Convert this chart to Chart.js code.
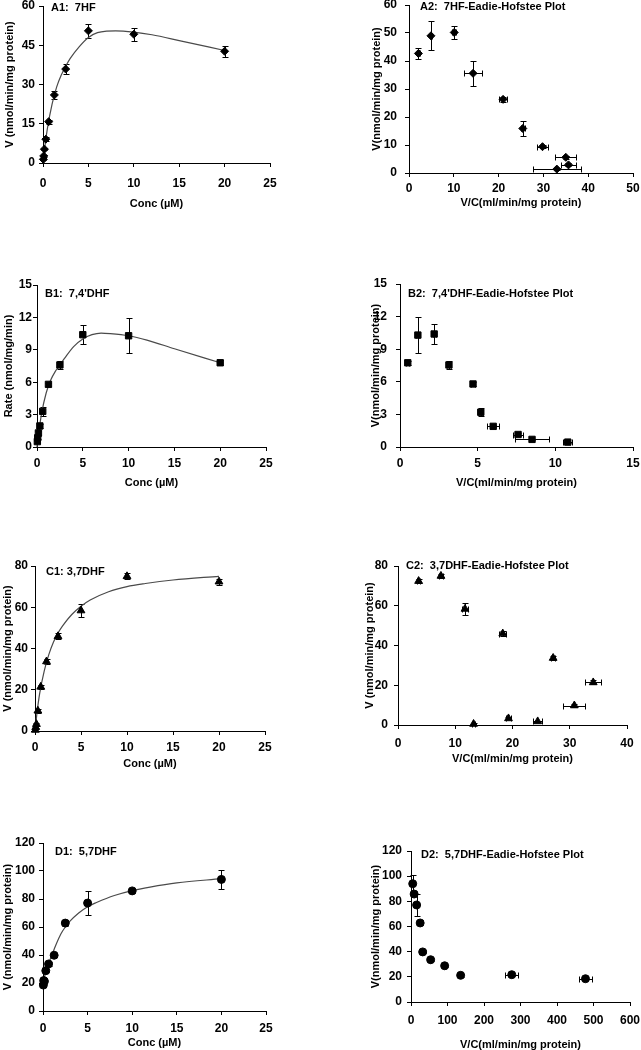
<!DOCTYPE html>
<html lang="en">
<head>
<meta charset="UTF-8">
<title>Flavone kinetics</title>
<script src="https://cdn.jsdelivr.net/npm/chart.js"></script>
<style>
  html, body { margin: 0; padding: 0; background: #fff; overflow: hidden; }
  canvas { position: absolute; }
</style>
</head>
<body>
<canvas id="a1"></canvas>
<canvas id="a2"></canvas>
<canvas id="b1"></canvas>
<canvas id="b2"></canvas>
<canvas id="c1"></canvas>
<canvas id="c2"></canvas>
<canvas id="d1"></canvas>
<canvas id="d2"></canvas>

<script>
// substrate concentrations (uM) used for every rate plot
const concs = [0.039, 0.078, 0.156, 0.3125, 0.625, 1.25, 2.5, 5, 10, 20];

// A: 7HF
const a1Rate = [1.4, 2.7, 5.3, 9.1, 15.8, 26.0, 35.9, 50.5, 49.2, 42.7];
const a1Err = [0.3, 0.4, 0.5, 0.7, 0.8, 1.5, 1.8, 2.6, 2.4, 2.0];
const a1FitConc = [0, 0.25, 0.5, 1, 1.5, 2, 2.5, 3, 4, 5, 6, 7, 8, 10, 12, 15, 20];
const a1FitRate = [0, 7.5, 13.5, 22.5, 29, 33.5, 37, 40, 44.5, 48, 49.8, 50.4, 50.5, 50, 49, 46.8, 43];
const a2VC = [2.1, 4.9, 10.1, 14.3, 21.0, 25.4, 29.8, 35.0, 35.6, 33.0];
const a2V = [42.7, 49.0, 50.2, 35.6, 26.3, 15.9, 9.4, 5.6, 2.9, 1.4];
const a2VCErr = [0.3, 0.3, 0.4, 2.0, 0.9, 0.4, 1.3, 2.3, 1.7, 5.4];
const a2VErr = [1.9, 5.2, 2.3, 4.5, 1.0, 2.8, 0.6, 0.5, 0.5, 0.4];

// B: 7,4'DHF
const b1Rate = [0.5, 0.85, 1.3, 1.95, 3.3, 5.8, 7.6, 10.4, 10.3, 7.8];
const b1Err = [0.1, 0.15, 0.2, 0.2, 0.4, 0.15, 0.35, 0.9, 1.6, 0.25];
const b1FitConc = [0, 0.25, 0.5, 1, 1.5, 2, 2.5, 3, 4, 5, 6, 7, 8, 10, 12, 15, 20];
const b1FitRate = [0, 1.7, 3.1, 5.0, 6.2, 7.0, 7.6, 8.2, 9.3, 10.0, 10.4, 10.55, 10.5, 10.3, 9.9, 9.1, 7.8];
const b2VC = [0.5, 1.15, 2.2, 3.15, 4.7, 5.2, 6.0, 7.6, 8.5, 10.8];
const b2V = [7.75, 10.3, 10.4, 7.55, 5.8, 3.2, 1.9, 1.15, 0.7, 0.45];
const b2VCErr = [0.1, 0.1, 0.1, 0.15, 0.15, 0.15, 0.4, 0.3, 1.1, 0.3];
const b2VErr = [0.2, 1.65, 0.9, 0.35, 0.15, 0.35, 0.1, 0.1, 0.05, 0.05];

// C: 3,7DHF
const c1Rate = [0.5, 1.8, 3.3, 9.8, 21.4, 33.7, 45.9, 58.4, 75.0, 72.4];
const c1Err = [0.3, 0.4, 0.5, 1.0, 1.0, 1.0, 1.5, 3.0, 1.5, 1.5];
const c1FitConc = [0, 0.25, 0.5, 1, 1.5, 2, 2.5, 3, 4, 5, 6, 8, 10, 12, 15, 20];
const c1FitRate = [0, 10, 18, 29, 37, 43, 47.5, 51, 56.5, 60.5, 63.5, 67.5, 70, 71.5, 73.2, 75];
const c2VC = [3.6, 7.5, 11.7, 18.3, 27.1, 34.1, 30.8, 19.3, 24.4, 13.2];
const c2V = [72.4, 75.0, 58.4, 46.0, 33.7, 21.4, 9.8, 3.3, 1.8, 0.5];
const c2VCErr = [0.3, 0.3, 0.6, 0.6, 0.4, 1.4, 1.9, 0.4, 0.8, 0.3];
const c2VErr = [1.0, 1.0, 3.0, 1.2, 1.0, 1.0, 0.8, 0.5, 0.4, 0.3];

// D: 5,7DHF
const d1Rate = [18.5, 21.7, 21.2, 28.8, 33.6, 39.8, 62.8, 77.1, 85.8, 94.0];
const d1Err = [1.0, 1.0, 1.0, 1.0, 1.2, 1.2, 2.0, 8.5, 1.2, 6.7];
const d1FitConc = [0, 0.3, 0.6, 1, 1.5, 2, 2.5, 3, 4, 5, 6, 8, 10, 12, 15, 20];
const d1FitRate = [19, 28, 33.5, 40, 48, 55, 60, 64, 70, 74.5, 77.5, 82.5, 86, 88.5, 91.5, 94.5];
const d2VC = [4.7, 8.6, 15.4, 25.1, 32.0, 53.8, 92.2, 136, 276, 478];
const d2V = [94.0, 85.8, 77.1, 62.8, 39.8, 33.6, 28.8, 21.2, 21.7, 18.5];
const d2VCErr = [0.4, 0.5, 1.7, 1.0, 1.0, 1.5, 3.0, 5.0, 18, 17];
const d2VErr = [6.7, 1.2, 8.5, 2.0, 1.2, 1.2, 1.0, 1.0, 1.0, 1.0];

const FONT = '"Liberation Sans", Arial, Helvetica, sans-serif';
Chart.defaults.font.family = FONT;
Chart.defaults.font.weight = 'bold';
Chart.defaults.color = '#000';

function pts(xs, ys) {
    return xs.map((x, i) => ({ x: x, y: ys[i] }));
}

// draws the error bars of a dataset (errX / errY hold half widths)
const errorBars = {
    id: 'errorBars',
    beforeDatasetsDraw(chart) {
        const { ctx, scales: { x, y } } = chart;
        const cap = 3;
        ctx.save();
        ctx.strokeStyle = '#000';
        ctx.lineWidth = 1;
        chart.data.datasets.forEach(ds => {
            if (!ds.errX && !ds.errY) return;
            ds.data.forEach((p, i) => {
                const px = Math.round(x.getPixelForValue(p.x)) + 0.5;
                const py = Math.round(y.getPixelForValue(p.y)) + 0.5;
                ctx.beginPath();
                if (ds.errY) {
                    const t = Math.round(y.getPixelForValue(p.y + ds.errY[i])) + 0.5;
                    const b = Math.round(y.getPixelForValue(p.y - ds.errY[i])) + 0.5;
                    ctx.moveTo(px, t); ctx.lineTo(px, b);
                    ctx.moveTo(px - cap, t); ctx.lineTo(px + cap, t);
                    ctx.moveTo(px - cap, b); ctx.lineTo(px + cap, b);
                }
                if (ds.errX) {
                    const l = Math.round(x.getPixelForValue(p.x - ds.errX[i])) + 0.5;
                    const r = Math.round(x.getPixelForValue(p.x + ds.errX[i])) + 0.5;
                    ctx.moveTo(l, py); ctx.lineTo(r, py);
                    ctx.moveTo(l, py - cap); ctx.lineTo(l, py + cap);
                    ctx.moveTo(r, py - cap); ctx.lineTo(r, py + cap);
                }
                ctx.stroke();
            });
        });
        ctx.restore();
    }
};

// panel label written inside the plot area, top left
const panelLabel = {
    id: 'panelLabel',
    afterDraw(chart, args, opts) {
        if (!opts.text) return;
        const { ctx, chartArea } = chart;
        ctx.save();
        ctx.font = 'bold 11px ' + FONT;
        ctx.fillStyle = '#000';
        ctx.textBaseline = 'middle';
        ctx.fillText(opts.text, chartArea.left + opts.dx, chartArea.top + opts.dy);
        ctx.restore();
    }
};

Chart.register(errorBars, panelLabel);

function makePanel(id, g, datasets) {
    const canvas = document.getElementById(id);
    canvas.width = g.w;
    canvas.height = g.h;
    canvas.style.left = g.left + 'px';
    canvas.style.top = g.top + 'px';
    const half = 6.6; // half the line height of an 11px title

    return new Chart(canvas, {
        type: 'scatter',
        data: { datasets: datasets },
        options: {
            responsive: false,
            animation: false,
            devicePixelRatio: 1,
            events: [],
            layout: { padding: { left: 0, top: g.plotTop - g.top, right: g.left + g.w - g.plotRight, bottom: 0 } },
            plugins: {
                legend: { display: false },
                tooltip: { enabled: false },
                panelLabel: { text: g.label, dx: g.labelDx, dy: g.labelDy }
            },
            scales: {
                x: {
                    type: 'linear', min: 0, max: g.xMax,
                    ticks: { stepSize: g.xStep, padding: g.xPad, autoSkip: false, maxRotation: 0, font: { size: 12, weight: 'bold' } },
                    grid: { display: true, drawOnChartArea: false, drawTicks: true, tickLength: 4, tickColor: '#000', tickWidth: 1 },
                    border: { display: true, color: '#000', width: 1 },
                    title: { display: true, text: g.xTitle, font: { size: 11, weight: 'bold' }, padding: 0 },
                    afterFit(s) { s.height = g.top + g.h - g.zero; s.paddingLeft = 0; s.paddingRight = 0; }
                },
                y: {
                    min: 0, max: g.yMax,
                    ticks: { stepSize: g.yStep, padding: g.yPad, autoSkip: false, font: { size: 12, weight: 'bold' } },
                    grid: { display: true, drawOnChartArea: false, drawTicks: true, tickLength: 4, tickColor: '#000', tickWidth: 1 },
                    border: { display: true, color: '#000', width: 1 },
                    title: { display: true, text: g.yTitle, font: { size: 11, weight: 'bold' }, padding: { top: g.yTitleX - g.left - half, bottom: 0 } },
                    afterFit(s) { s.width = g.axisX - g.left; s.paddingTop = 0; s.paddingBottom = 0; }
                }
            }
        }
    });
}

function marks(data, style, radius, errX, errY) {
    return {
        data: data, pointStyle: style, pointRadius: radius,
        backgroundColor: '#000', borderColor: '#000', borderWidth: 1,
        clip: false, errX: errX, errY: errY
    };
}

function fit(data) {
    return {
        data: data, showLine: true, pointRadius: 0,
        borderColor: '#4a4a4a', borderWidth: 1.2,
        cubicInterpolationMode: 'monotone', clip: false
    };
}

const concTitle = 'Conc (\u00B5M)';
const vcTitle = 'V/C(ml/min/mg protein)';

makePanel('a1', { left: 0, top: 0, w: 320, h: 211, axisX: 43, plotTop: 6, zero: 163, plotRight: 270,
    xMax: 25, xStep: 5, yMax: 60, yStep: 15, xPad: 9, yPad: 4, yTitleX: 10,
    xTitle: concTitle, yTitle: 'V (nmol/min/mg protein)', label: 'A1:  7HF', labelDx: 8, labelDy: 2 },
    [marks(pts(concs, a1Rate), 'rectRot', 4, null, a1Err), fit(pts(a1FitConc, a1FitRate))]);

makePanel('a2', { left: 320, top: 0, w: 321, h: 210, axisX: 409, plotTop: 5, zero: 173, plotRight: 633,
    xMax: 50, xStep: 10, yMax: 60, yStep: 10, xPad: 4, yPad: 8, yTitleX: 377,
    xTitle: vcTitle, yTitle: 'V(nmol/min/mg protein)', label: 'A2:  7HF-Eadie-Hofstee Plot', labelDx: 11, labelDy: 2 },
    [marks(pts(a2VC, a2V), 'rectRot', 4, a2VCErr, a2VErr)]);

makePanel('b1', { left: 0, top: 260, w: 320, h: 230, axisX: 37, plotTop: 285, zero: 447, plotRight: 266,
    xMax: 25, xStep: 5, yMax: 15, yStep: 3, xPad: 5, yPad: 1, yTitleX: 9,
    xTitle: concTitle, yTitle: 'Rate (nmol/mg/min)', label: "B1:  7,4'DHF", labelDx: 8, labelDy: 9 },
    [marks(pts(concs, b1Rate), 'rect', 4.5, null, b1Err), fit(pts(b1FitConc, b1FitRate))]);

makePanel('b2', { left: 320, top: 260, w: 321, h: 230, axisX: 400, plotTop: 284, zero: 447, plotRight: 633,
    xMax: 15, xStep: 5, yMax: 15, yStep: 3, xPad: 5, yPad: 9, yTitleX: 376,
    xTitle: vcTitle, yTitle: 'V(nmol/min/mg protein)', label: "B2:  7,4'DHF-Eadie-Hofstee Plot", labelDx: 8, labelDy: 10 },
    [marks(pts(b2VC, b2V), 'rect', 4.5, b2VCErr, b2VErr)]);

makePanel('c1', { left: 0, top: 540, w: 320, h: 231, axisX: 35, plotTop: 566, zero: 731, plotRight: 265,
    xMax: 25, xStep: 5, yMax: 80, yStep: 20, xPad: 5, yPad: 3, yTitleX: 8,
    xTitle: concTitle, yTitle: 'V (nmol/min/mg protein)', label: 'C1: 3,7DHF', labelDx: 11, labelDy: 6 },
    [marks(pts(concs, c1Rate), 'triangle', 4.5, null, c1Err), fit(pts(c1FitConc, c1FitRate))]);

makePanel('c2', { left: 320, top: 540, w: 321, h: 226, axisX: 398, plotTop: 566, zero: 725, plotRight: 627,
    xMax: 40, xStep: 10, yMax: 80, yStep: 20, xPad: 7, yPad: 6, yTitleX: 370,
    xTitle: vcTitle, yTitle: 'V (nmol/min/mg protein)', label: 'C2:  3,7DHF-Eadie-Hofstee Plot', labelDx: 8, labelDy: 0 },
    [marks(pts(c2VC, c2V), 'triangle', 4.5, c2VCErr, c2VErr)]);

makePanel('d1', { left: 0, top: 820, w: 320, h: 230, axisX: 43, plotTop: 843, zero: 1011, plotRight: 266,
    xMax: 25, xStep: 5, yMax: 120, yStep: 20, xPad: 6, yPad: 4, yTitleX: 8,
    xTitle: concTitle, yTitle: 'V (nmol/min/mg protein)', label: 'D1:  5,7DHF', labelDx: 12, labelDy: 9 },
    [marks(pts(concs, d1Rate), 'circle', 4, null, d1Err), fit(pts(d1FitConc, d1FitRate))]);

makePanel('d2', { left: 320, top: 820, w: 321, h: 232, axisX: 411, plotTop: 851, zero: 1002, plotRight: 630,
    xMax: 600, xStep: 100, yMax: 120, yStep: 20, xPad: 7, yPad: 5, yTitleX: 376,
    xTitle: vcTitle, yTitle: 'V(nmol/min/mg protein)', label: 'D2:  5,7DHF-Eadie-Hofstee Plot', labelDx: 10, labelDy: 4 },
    [marks(pts(d2VC, d2V), 'circle', 4, d2VCErr, d2VErr)]);
</script>
</body>
</html>
